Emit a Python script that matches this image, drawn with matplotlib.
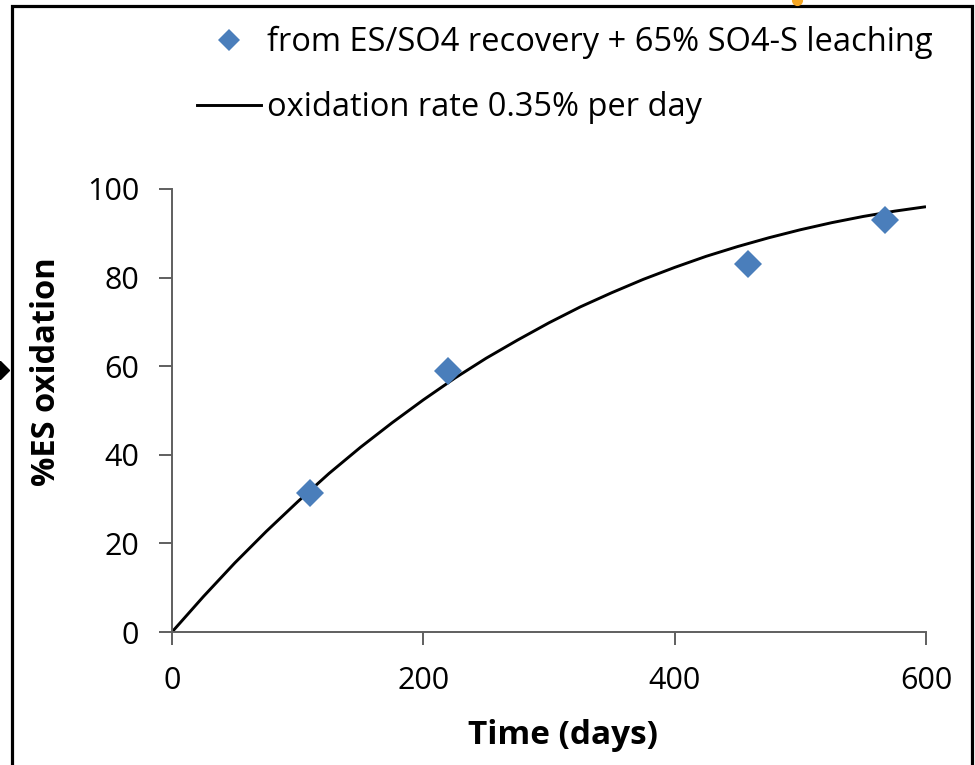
import matplotlib
matplotlib.use("Agg")
import matplotlib.pyplot as plt
from matplotlib.lines import Line2D
from matplotlib.patches import Rectangle

# Measured oxidation of elemental sulfur (ES)
days = [110, 220, 458, 567]
es_oxidation = [31.4, 58.9, 83.1, 93.0]

# Oxidation-rate curve (0.35% per day), read every 25 days
curve_days = [0, 25, 50, 75, 100, 125, 150, 175, 200, 225, 250, 275, 300,
              325, 350, 375, 400, 425, 450, 475, 500, 525, 550, 575, 600]
curve_pct = [0.0, 8.0, 15.6, 22.7, 29.4, 35.8, 41.7, 47.2, 52.4, 57.3, 61.8,
             65.9, 69.8, 73.4, 76.6, 79.6, 82.3, 84.8, 87.0, 89.0, 90.8,
             92.4, 93.8, 95.0, 96.0]

x_ticks = [0, 200, 400, 600]
y_ticks = [0, 20, 40, 60, 80, 100]

series_label = "from ES/SO4 recovery + 65% SO4-S leaching"
curve_label = "oxidation rate 0.35% per day"

plt.rcParams["font.family"] = ["Open Sans", "DejaVu Sans"]

W, H = 975, 765
fig = plt.figure(figsize=(W / 100, H / 100), dpi=100)
ax = fig.add_axes([172 / W, 1 - 632 / H, (926 - 172) / W, (632 - 189) / H])

blue = "#4a7ebb"
spine_col = "#5f5f5f"

ax.plot(curve_days, curve_pct, color="black", lw=2.1, zorder=2,
        solid_capstyle="butt")
ax.plot(days, es_oxidation, linestyle="none", marker="D", ms=14,
        color=blue, markeredgewidth=0, zorder=3)

ax.set_xlim(0, 600)
ax.set_ylim(0, 100)
ax.set_xticks(x_ticks)
ax.set_yticks(y_ticks)
for s in ("top", "right"):
    ax.spines[s].set_visible(False)
for s in ("left", "bottom"):
    ax.spines[s].set_color(spine_col)
    ax.spines[s].set_linewidth(1.4)
ax.tick_params(axis="both", direction="out", length=9.5, width=1.4,
               color=spine_col, labelsize=22, labelcolor="black")
ax.tick_params(axis="y", pad=14)
ax.tick_params(axis="x", pad=15)

ax.set_xlabel("Time (days)", fontsize=24, fontweight="bold", va="center")
ax.set_ylabel("%ES oxidation", fontsize=23.5, fontweight="bold", va="center")
ax.xaxis.set_label_coords((563 - 172) / 754, (632 - 735) / 443)
ax.yaxis.set_label_coords((47 - 172) / 754, (632 - 372) / 443)

handles = [
    Line2D([], [], linestyle="none", marker="D", ms=11.5, color=blue,
           markeredgewidth=0),
    Line2D([], [], color="black", lw=2.1),
]
fig.legend(handles, [series_label, curve_label], loc="upper left",
           bbox_to_anchor=(197 / W, 1 - 26 / H), frameon=False,
           fontsize=23.5, handlelength=1.95, handletextpad=0.2,
           labelspacing=0.98, borderpad=0, borderaxespad=0)

# surrounding frame
fig.add_artist(Rectangle((12 / W, -0.1), (972 - 12) / W, 1.1 - 6 / H,
                         transform=fig.transFigure, fill=False,
                         edgecolor="black", lw=2.3, clip_on=False))
fig.add_artist(Line2D([0.0], [1 - 370 / H], transform=fig.transFigure,
                      marker="D", ms=9, color="black", linestyle="none",
                      clip_on=False))
fig.add_artist(Line2D([797 / W], [1.0], transform=fig.transFigure,
                      marker="o", ms=7, color="#f5a623", linestyle="none",
                      clip_on=False))

fig.savefig("out.png", dpi=100)
